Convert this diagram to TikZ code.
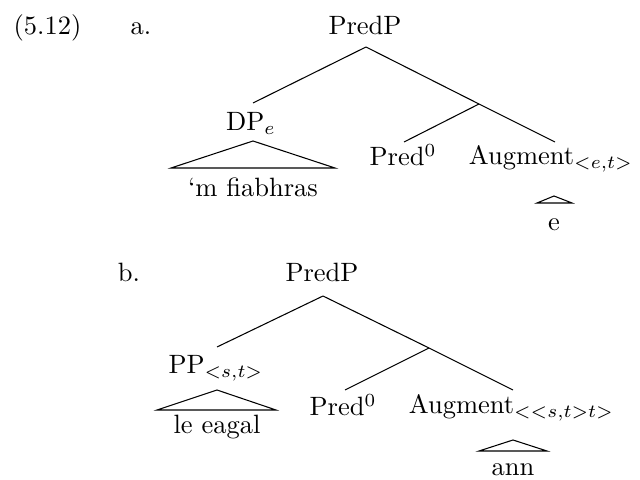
\documentclass[tikz,border=0pt]{standalone}
\begin{document}
\begin{tikzpicture}[x=0.3774pt,y=-0.3774pt,
  lab/.style={anchor=base,inner sep=0pt},
  branch/.style={draw=black,line width=0.4pt},
  roof/.style={draw=black,line width=0.4pt,line join=miter}]
\useasboundingbox (0,0) rectangle (640,480);
% ---------- (5.12) a. ----------
\node[lab] (num) at (47.5,35) {(5.12)};
\node[lab] (la) at (141,35) {a.};
\node[lab] (predPa) at (365,35) {PredP};
\node[lab] (dpa) at (251,131) {DP$_e$};
\node[lab] (fiab) at (253,197) {`m fiabhras};
\node[lab] (pred0a) at (403,166) {Pred$^0$};
\node[lab] (auga) at (551,165) {Augment$_{<e,t>}$};
\node[lab] (ea) at (554,231) {e};
\coordinate (apexA) at (366,47);
\coordinate (dpTop) at (253,103);
\coordinate (dpBot) at (253,141);
\coordinate (roofAL) at (171,168);
\coordinate (roofAR) at (335,168);
\coordinate (midA) at (479,104);
\coordinate (predTopA) at (404,142);
\coordinate (augTopA) at (555,142);
\coordinate (eApex) at (554,196);
\coordinate (eL) at (537,203);
\coordinate (eR) at (572,203);
\draw[branch] (apexA) -- (dpTop);
\draw[branch] (apexA) -- (midA);
\draw[branch] (midA) -- (predTopA);
\draw[branch] (midA) -- (augTopA);
\draw[roof] (roofAL) -- (dpBot) -- (roofAR) -- cycle;
\draw[roof] (eL) -- (eApex) -- (eR) -- cycle;
% ---------- b. ----------
\node[lab] (lb) at (129,282) {b.};
\node[lab] (predPb) at (322,282) {PredP};
\node[lab] (ppb) at (216,374) {PP$_{<s,t>}$};
\node[lab] (eagal) at (217,434) {le eagal};
\node[lab] (pred0b) at (343,416) {Pred$^0$};
\node[lab] (augb) at (511.5,414) {Augment$_{<<s,t>t>}$};
\node[lab] (ann) at (513,476) {ann};
\coordinate (apexB) at (323,296);
\coordinate (ppTop) at (217,347);
\coordinate (ppBot) at (217,390);
\coordinate (roofBL) at (157,410);
\coordinate (roofBR) at (276,410);
\coordinate (midB) at (429,348);
\coordinate (predTopB) at (345,390);
\coordinate (augTopB) at (513,390);
\coordinate (annApex) at (513,440);
\coordinate (annL) at (479,451);
\coordinate (annR) at (547,451);
\draw[branch] (apexB) -- (ppTop);
\draw[branch] (apexB) -- (midB);
\draw[branch] (midB) -- (predTopB);
\draw[branch] (midB) -- (augTopB);
\draw[roof] (roofBL) -- (ppBot) -- (roofBR) -- cycle;
\draw[roof] (annL) -- (annApex) -- (annR) -- cycle;
\end{tikzpicture}
\end{document}
